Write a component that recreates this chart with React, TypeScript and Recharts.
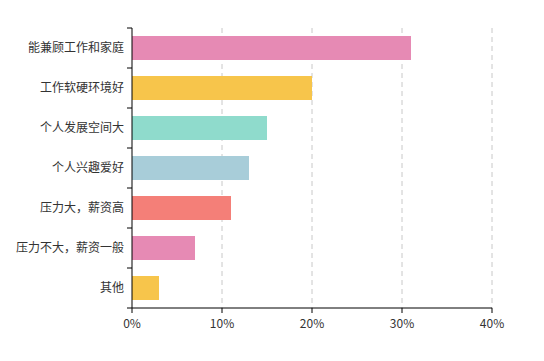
import { BarChart, Bar, XAxis, YAxis, CartesianGrid, Cell } from 'recharts';

const categories = [
  '能兼顾工作和家庭',
  '工作软硬环境好',
  '个人发展空间大',
  '个人兴趣爱好',
  '压力大，薪资高',
  '压力不大，薪资一般',
  '其他',
];
const shares = [31, 20, 15, 13, 11, 7, 3];
const barColors = ['#e68ab4', '#f7c54b', '#8fdbcc', '#a8cdd9', '#f47f78', '#e68ab4', '#f7c54b'];
const xTicks = [0, 10, 20, 30, 40];

const data = categories.map((name, i) => ({ name, value: shares[i] }));

const font = '"Microsoft YaHei", "Noto Sans CJK SC", sans-serif';

// category label plus tick marks on the band edges (like echarts boundaryGap)
function CatTick(props: any) {
  const { x, y, payload, index, visibleTicksCount, height } = props;
  const half = height / visibleTicksCount / 2;
  const ax = x + 8;
  return (
    <g>
      <line x1={ax - 5} x2={ax} y1={y - half} y2={y - half} stroke="#000" />
      {index === visibleTicksCount - 1 && (
        <line x1={ax - 5} x2={ax} y1={y + half} y2={y + half} stroke="#000" />
      )}
      <text x={x} y={y} dy={4} textAnchor="end" fontSize={12} fill="#333" fontFamily={font}>
        {payload.value}
      </text>
    </g>
  );
}

export default function App() {
  return (
    <div style={{ fontFamily: font }}>
      <BarChart
        width={528}
        height={345}
        data={data}
        layout="vertical"
        margin={{ top: 20, right: 44, left: 0, bottom: 15 }}
      >
        <CartesianGrid
          horizontal={false}
          strokeDasharray="5 4"
          stroke="#c8c8c8"
          verticalValues={[10, 20, 30, 40]}
        />
        <XAxis
          type="number"
          domain={[0, 40]}
          ticks={xTicks}
          tickFormatter={(v: number) => `${v}%`}
          axisLine={{ stroke: '#000' }}
          tickLine={{ stroke: '#000' }}
          tickSize={5}
          tickMargin={6}
          height={30}
          tick={{ fontSize: 12, fill: '#333', fontFamily: font }}
        />
        <YAxis
          type="category"
          dataKey="name"
          width={124}
          axisLine={{ stroke: '#000' }}
          tickLine={false}
          tickSize={5}
          tickMargin={3}
          tick={<CatTick />}
        />
        <Bar dataKey="value" barSize={24} isAnimationActive={false}>
          {data.map((d, i) => (
            <Cell key={d.name} fill={barColors[i]} />
          ))}
        </Bar>
      </BarChart>
    </div>
  );
}
